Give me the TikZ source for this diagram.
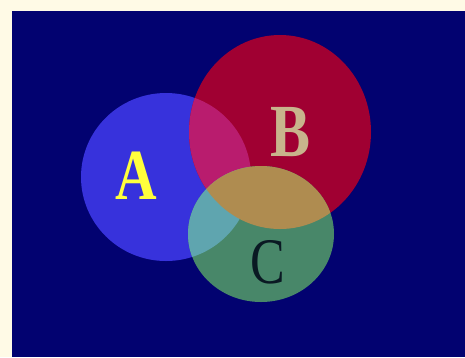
\documentclass[tikz,border=0pt]{standalone}
\usepackage{fontspec}
\setmainfont{Liberation Serif}
\definecolor{cream}{RGB}{255,250,230}
\definecolor{navy}{RGB}{2,2,112}
\definecolor{setA}{RGB}{55,50,220}
\definecolor{setB}{RGB}{160,0,50}
\definecolor{setC}{RGB}{72,135,105}
\definecolor{setAB}{RGB}{185,28,110}
\definecolor{setAC}{RGB}{95,165,175}
\definecolor{setBC}{RGB}{175,140,80}
\definecolor{labelA}{RGB}{255,255,60}
\definecolor{labelB}{RGB}{200,180,140}
\definecolor{labelC}{RGB}{10,25,35}
\def\setApath{(166,177) ellipse [x radius=85pt, y radius=84pt]}
\def\setBpath{(280,132) ellipse [x radius=91pt, y radius=97pt]}
\def\setCpath{(261,234) ellipse [x radius=73pt, y radius=68pt]}
\begin{document}
\begin{tikzpicture}[x=1pt, y=-1pt,
    letter/.style={inner sep=0pt, xscale=0.8}]
    % Frame
    \fill[cream] (0,0) rectangle (465,357);
    \fill[navy] (12,11) rectangle (465,357);

    % The three sets
    \fill[setA] \setApath;
    \fill[setB] \setBpath;
    \fill[setC] \setCpath;

    % Color the overlaps
    \begin{scope} % A intersect B
        \clip \setApath;
        \fill[setAB] \setBpath;
    \end{scope}
    \begin{scope} % A intersect C
        \clip \setApath;
        \fill[setAC] \setCpath;
    \end{scope}
    \begin{scope} % B intersect C
        \clip \setBpath;
        \fill[setBC] \setCpath;
    \end{scope}

    % Label the sets
    \node[letter, text=labelA, font={\fontsize{72}{72}\selectfont\bfseries}] (a) at (136,176) {A};
    \node[letter, text=labelB, font={\fontsize{75}{75}\selectfont\bfseries}] (b) at (291,132) {B};
    \node[letter, text=labelC, font={\fontsize{65}{65}\selectfont}] (c) at (268,262) {C};
\end{tikzpicture}
\end{document}
